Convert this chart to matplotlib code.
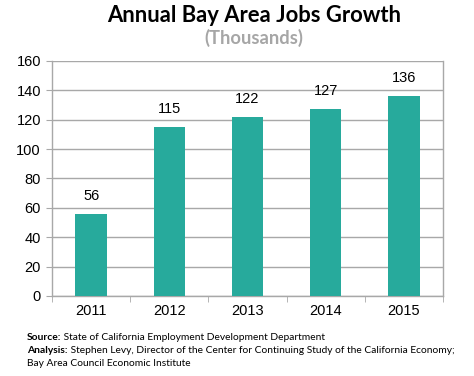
import matplotlib
matplotlib.use("Agg")
import matplotlib.pyplot as plt
from matplotlib.ticker import FixedLocator

years = ["2011", "2012", "2013", "2014", "2015"]
jobs = [56, 115, 122, 127, 136]
y_ticks = [0, 20, 40, 60, 80, 100, 120, 140, 160]

TEAL = "#27AA9C"
GRID = "#A8A8A8"

fig = plt.figure(figsize=(4.74, 3.76), dpi=100)
ax = fig.add_axes([0.1097, 0.2128, 0.825, 0.625])

x = list(range(len(years)))
bars = ax.bar(x, jobs, width=0.4, color=TEAL, zorder=3)
for xi, v in zip(x, jobs):
    ax.annotate(str(v), (xi, v), xytext=(0, 8), textcoords="offset points",
                ha="center", va="bottom", fontsize=10.5, family="Liberation Sans")

ax.set_xlim(-0.5, len(years) - 0.5)
ax.set_ylim(0, 160)
ax.set_yticks(y_ticks)
ax.set_xticks(x)
ax.set_xticklabels(years)
ax.xaxis.set_minor_locator(FixedLocator([i - 0.5 for i in range(len(years) + 1)]))
ax.tick_params(axis="x", which="major", length=0, pad=6)
ax.tick_params(axis="x", which="minor", length=4, color=GRID, direction="out")
ax.tick_params(axis="y", length=4, color=GRID, direction="out", pad=4)
for lbl in ax.get_xticklabels() + ax.get_yticklabels():
    lbl.set_fontsize(10.5)
    lbl.set_family("Liberation Sans")

ax.grid(axis="y", color=GRID, linewidth=1, zorder=0)
for side in ["left", "bottom", "right"]:
    ax.spines[side].set_color(GRID)
    ax.spines[side].set_linewidth(1)
ax.spines["top"].set_visible(False)

fig.text(0.536, 0.958, "Annual Bay Area Jobs Growth", ha="center", va="center",
         fontsize=15.8, fontweight="bold", family="Lato")
fig.text(0.536, 0.898, "(Thousands)", ha="center", va="center",
         fontsize=13.2, fontweight="bold", family="Lato", color="#A6A6A6")

# footer with bold lead-ins
footer = [
    ("Source:", " State of California Employment Development Department"),
    ("Analysis:", " Stephen Levy, Director of the Center for Continuing Study of the California Economy;"),
    ("", "Bay Area Council Economic Institute"),
]
renderer = fig.canvas.get_renderer()
for i, (bold, rest) in enumerate(footer):
    ypix = 376 - (338 + i * 12.5)
    xpix = 27
    if bold:
        t = fig.text(xpix / 474, ypix / 376, bold, fontsize=7.4, fontweight="bold",
                     family="Lato", va="center")
        xpix += t.get_window_extent(renderer).width
    fig.text(xpix / 474, ypix / 376, rest, fontsize=7.4, family="Lato", va="center")

fig.savefig("out.png", dpi=100)
